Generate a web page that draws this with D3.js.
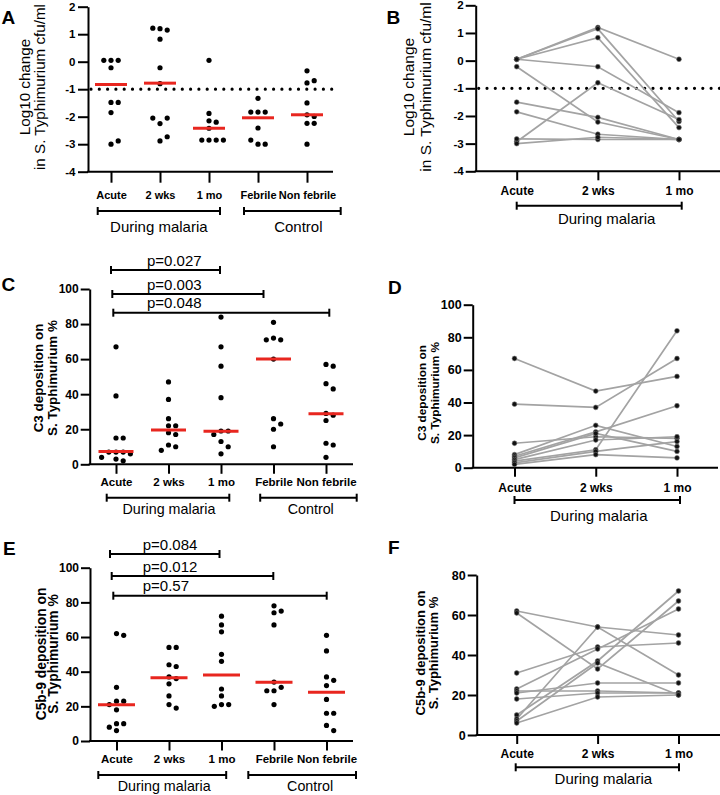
<!DOCTYPE html>
<html><head><meta charset="utf-8">
<script src="https://cdn.jsdelivr.net/npm/d3@7"></script>
<style>
body{margin:0;background:#fff;}
svg{display:block;}
</style></head><body>
<script>
// ---------------- DATA ----------------
const categories = ["Acute", "2 wks", "1 mo", "Febrile", "Non febrile"];
const pairedCategories = ["Acute", "2 wks", "1 mo"];
const groupLabels = ["During malaria", "Control"];
const groupSpans = [["Acute", "1 mo"], ["Febrile", "Non febrile"]];

const cfuTicks = [2, 1, 0, -1, -2, -3, -4];
const pctTicks = [0, 20, 40, 60, 80, 100];
const pctTicksF = [0, 20, 40, 60, 80];
const cfuThreshold = -1;

// Panel A: log10 change in S. Typhimurium cfu/ml
const cfuAcute = [0.05, 0.05, 0.05, -0.22, -1.48, -1.48, -1.85, -3.0, -2.88];
const cfu2wks = [1.2, 1.15, 1.22, 0.82, -0.22, -0.8, -2.25, -2.05, -2.05, -2.88, -2.73];
const cfu1mo = [0.05, -1.88, -2.15, -2.2, -2.42, -2.85, -2.85, -2.85, -2.85];
const cfuFebrile = [-1.33, -1.83, -1.83, -1.83, -2.41, -3.0, -3.0, -2.85];
const cfuNonFebrile = [-0.33, -0.77, -0.69, -1.5, -1.93, -1.99, -2.24, -2.24, -3.0];
const cfuMedians = [-0.83, -0.78, -2.42, -2.04, -1.93];

// Panel B: paired subjects [Acute, 2 wks, 1 mo]
const cfuPaired = [
  [0.05, 1.2, 0.05],
  [0.05, 1.15, -2.2],
  [0.05, 0.83, -2.42],
  [0.05, -0.22, -1.88],
  [-0.22, -2.22, -2.85],
  [-1.5, -2.05, -2.85],
  [-1.85, -2.66, -2.85],
  [-2.93, -0.8, -2.13],
  [-2.83, -2.85, -2.85],
  [-3.0, -2.77, -2.85]
];

// Panel C: C3 deposition %
const c3Acute = [67, 39, 15, 15, 7, 7, 7, 6, 4, 3, 2];
const c3Wks2 = [47, 37, 26, 22, 22, 18, 17, 11, 10, 8];
const c3Mo1 = [84, 67, 56, 38, 19, 19, 17, 13, 10, 6];
const c3Febrile = [81, 72, 71, 71, 60, 26, 23, 20, 10];
const c3NonFebrile = [57, 56, 46, 43, 29, 28, 25, 12, 11, 4];
const c3Medians = [7.3, 19.5, 18.9, 60, 28.8];
const c3PLabels = ["p=0.027", "p=0.003", "p=0.048"];
const c3PPairs = [["Acute", "1 mo"], ["Acute", "Febrile"], ["Acute", "Non febrile"]];

// Panel D: paired C3
const c3Paired = [
  [67, 47, 56],
  [39, 37, 67],
  [15, 19, 18],
  [8, 26, 13],
  [7, 22, 38],
  [6, 21, 10],
  [5, 17, 19],
  [4, 11, 84],
  [3, 10, 16],
  [2, 8, 6]
];

// Panel E: C5b-9 deposition %
const c5Acute = [62, 61, 31, 23, 23, 21, 18, 10, 10, 8, 6];
const c5Wks2 = [54, 54, 44, 43, 37, 36, 33, 26, 21, 19];
const c5Mo1 = [72, 67, 63, 50, 46, 30, 26, 21, 21, 20];
const c5Febrile = [78, 75, 74, 67, 34, 31, 29, 29, 21];
const c5NonFebrile = [61, 52, 37, 35, 32, 24, 16, 16, 9, 6];
const c5Medians = [20.9, 36.5, 38.1, 33.9, 28.1];
const c5PLabels = ["p=0.084", "p=0.012", "p=0.57"];
const c5PPairs = [["Acute", "1 mo"], ["Acute", "Febrile"], ["Acute", "Non febrile"]];

// Panel F: paired C5b-9
const c5Paired = [
  [62, 54, 50],
  [61, 33, 67],
  [31, 44, 46],
  [23, 43, 63],
  [22, 22, 21],
  [21, 26, 26],
  [18, 21, 21],
  [10, 37, 72],
  [8, 54, 30],
  [7, 36, 20],
  [6, 19, 20]
];

// ---------------- DRAWING ----------------
const FONT = '"Liberation Sans", Arial, Helvetica, sans-serif';
const RED = "#e8261f";
const GRAY = "#a3a3a3";

const svg = d3.select("body").append("svg")
  .attr("width", 720).attr("height", 795)
  .attr("font-family", FONT);

function beeswarm(values, xc, y, spacing, minDist) {
  const placed = [];
  const order = [0, 1, -1, 2, -2, 3, -3];
  return values.map(v => {
    const py = y(v);
    for (const k of order) {
      const px = xc + k * spacing;
      if (placed.every(p => Math.hypot(p.x - px, p.y - py) >= minDist)) {
        const pt = {x: px, y: py, v};
        placed.push(pt);
        return pt;
      }
    }
    const pt = {x: xc, y: py, v};
    placed.push(pt);
    return pt;
  });
}

function drawYAxis(g, y, L, ticks) {
  const a = g.append("g").attr("transform", `translate(${L.yAxisX},0)`)
    .call(d3.axisLeft(y).tickValues(ticks).tickFormat(d => String(d))
      .tickSize(L.ytick).tickPadding(L.ypad).tickSizeOuter(0));
  a.attr("font-family", FONT).attr("font-size", L.tickFont).attr("font-weight", "bold");
  a.selectAll("path,line").attr("stroke", "#000").attr("stroke-width", 2);
  a.selectAll("text").attr("fill", "#000");
}

function drawXAxis(g, x, y0, L) {
  const a = g.append("g").attr("transform", `translate(0,${y0})`)
    .call(d3.axisBottom(x).tickSize(L.xtick).tickPadding(L.xpad).tickSizeOuter(0));
  a.select(".domain").remove();
  a.attr("font-family", FONT).attr("font-size", L.catFont).attr("font-weight", "bold");
  a.selectAll("line").attr("stroke", "#000").attr("stroke-width", 2);
  a.selectAll("text").attr("fill", "#000");
  g.append("line").attr("x1", L.yAxisX - 1).attr("x2", L.xEnd)
    .attr("y1", y0).attr("y2", y0).attr("stroke", "#000").attr("stroke-width", 2);
}

function drawBracket(g, x1, x2, yb, cap) {
  g.append("line").attr("x1", x1).attr("x2", x2).attr("y1", yb).attr("y2", yb)
    .attr("stroke", "#000").attr("stroke-width", 2);
  [x1, x2].forEach(xx => g.append("line").attr("x1", xx).attr("x2", xx)
    .attr("y1", yb - cap).attr("y2", yb + cap).attr("stroke", "#000").attr("stroke-width", 2));
}

function drawGroups(g, x, L, spans, labels) {
  spans.forEach((s, i) => {
    const x1 = x(s[0]) + L.groupOff[i][0];
    const x2 = x(s[1]) + L.groupOff[i][1];
    drawBracket(g, x1, x2, L.bracketY, 4);
    g.append("text").attr("x", (x1 + x2) / 2 + L.groupOff[i][2]).attr("y", L.groupBase)
      .attr("text-anchor", "middle").attr("font-size", L.groupFont).attr("fill", "#000")
      .text(labels[i]);
  });
}

function drawYLabel(g, L, lines) {
  lines.forEach((t, i) => {
    g.append("text")
      .attr("transform", `translate(${L.ylabX[i]},${L.ylabY}) rotate(-90)`)
      .attr("text-anchor", "middle").attr("font-size", L.ylabFont)
      .attr("font-weight", L.ylabBold ? "bold" : "normal").attr("fill", "#000")
      .text(t);
  });
}

function drawLetter(g, L) {
  g.append("text").attr("x", L.letterX).attr("y", L.letterY)
    .attr("font-size", 19).attr("font-weight", "bold").attr("fill", "#000").text(L.letter);
}

function drawThreshold(g, y, L, v) {
  g.append("line").attr("x1", L.yAxisX + 3).attr("x2", L.xEnd)
    .attr("y1", y(v)).attr("y2", y(v))
    .attr("stroke", "#000").attr("stroke-width", 3.2)
    .attr("stroke-linecap", "round").attr("stroke-dasharray", "0,8.3");
}

function drawScatter(P, L) {
  const g = svg.append("g");
  const y = d3.scaleLinear().domain(P.yDomain).range(L.yRange);
  const x = d3.scalePoint().domain(categories).range(L.xRange);
  drawLetter(g, L);
  drawYAxis(g, y, L, P.yTicks);
  drawXAxis(g, x, L.yRange[0], L);
  drawGroups(g, x, L, groupSpans, groupLabels);
  drawYLabel(g, L, P.yLabel);
  if (P.threshold !== undefined) drawThreshold(g, y, L, P.threshold);
  if (P.pLabels) {
    P.pLabels.forEach((lab, i) => {
      const x1 = x(P.pPairs[i][0]) + L.pOff[i][0];
      const x2 = x(P.pPairs[i][1]) + L.pOff[i][1];
      drawBracket(g, x1, x2, L.pY[i], 4);
      g.append("text").attr("x", x(P.pPairs[i][0]) + L.pTextDx).attr("y", L.pY[i] - 4.5)
        .attr("font-size", 15).attr("fill", "#000").text(lab);
    });
  }
  P.values.forEach((vals, ci) => {
    const xc = x(categories[ci]);
    const pts = beeswarm(vals, xc, y, 7.2, 5.8);
    g.selectAll(null).data(pts).enter().append("circle")
      .attr("cx", d => d.x).attr("cy", d => d.y).attr("r", 2.6).attr("fill", "#000");
    g.append("line").attr("x1", xc - L.medHalf).attr("x2", xc + L.medHalf)
      .attr("y1", y(P.medians[ci])).attr("y2", y(P.medians[ci]))
      .attr("stroke", RED).attr("stroke-width", 3);
  });
}

function drawPaired(P, L) {
  const g = svg.append("g");
  const y = d3.scaleLinear().domain(P.yDomain).range(L.yRange);
  const x = d3.scalePoint().domain(pairedCategories).range(L.xRange);
  drawLetter(g, L);
  drawYAxis(g, y, L, P.yTicks);
  drawXAxis(g, x, L.yRange[0], L);
  drawGroups(g, x, L, [groupSpans[0]], [groupLabels[0]]);
  drawYLabel(g, L, P.yLabel);
  if (P.threshold !== undefined) drawThreshold(g, y, L, P.threshold);
  const line = d3.line().x((d, i) => x(pairedCategories[i])).y(d => y(d));
  g.selectAll(null).data(P.subjects).enter().append("path")
    .attr("d", d => line(d)).attr("fill", "none")
    .attr("stroke", GRAY).attr("stroke-width", 1.7);
  P.subjects.forEach(s => s.forEach((v, i) => {
    g.append("circle").attr("cx", x(pairedCategories[i])).attr("cy", y(v))
      .attr("r", 2.4).attr("fill", "#111").attr("stroke", "#777").attr("stroke-width", 0.6);
  }));
}

// ---------------- LAYOUT ----------------
drawScatter({
  yDomain: [-4, 2], yTicks: cfuTicks, threshold: cfuThreshold,
  values: [cfuAcute, cfu2wks, cfu1mo, cfuFebrile, cfuNonFebrile], medians: cfuMedians,
  yLabel: ["Log10 change", "in S. Typhimurium cfu/ml"]
}, {
  letter: "A", letterX: 1.5, letterY: 23.5,
  yAxisX: 88, yRange: [171.7, 6.7], xRange: [111, 307], xEnd: 333,
  ytick: 10, ypad: 2.5, tickFont: 11.5, xtick: 11, xpad: 9, catFont: 11,
  bracketY: 211, groupOff: [[-13.3, 11, 0], [-14, 33.7, 6]], groupBase: 232, groupFont: 15,
  ylabX: [30, 45], ylabY: 87, ylabFont: 15.2, ylabBold: false, medHalf: 16
});

drawPaired({
  yDomain: [-4, 2], yTicks: cfuTicks, threshold: cfuThreshold, subjects: cfuPaired,
  yLabel: ["Log10 change", "in S. Typhimurium cfu/ml"]
}, {
  letter: "B", letterX: 386.5, letterY: 23.5,
  yAxisX: 475.7, yRange: [171.3, 5.3], xRange: [516.7, 679], xEnd: 720,
  ytick: 10, ypad: 2, tickFont: 11.5, xtick: 9, xpad: 6, catFont: 12,
  bracketY: 205.7, groupOff: [[0, 2.7, 7.5]], groupBase: 223.5, groupFont: 15,
  ylabX: [414, 431], ylabY: 87, ylabFont: 15.5, ylabBold: false
});

drawScatter({
  yDomain: [0, 100], yTicks: pctTicks,
  values: [c3Acute, c3Wks2, c3Mo1, c3Febrile, c3NonFebrile], medians: c3Medians,
  pLabels: c3PLabels, pPairs: c3PPairs,
  yLabel: ["C3 deposition on", "S. Typhimurium %"]
}, {
  letter: "C", letterX: 1.5, letterY: 291,
  yAxisX: 89.7, yRange: [464.3, 289], xRange: [116, 326], xEnd: 353,
  ytick: 9, ypad: 2, tickFont: 12, xtick: 9.5, xpad: 4.4, catFont: 11.5,
  bracketY: 497.7, groupOff: [[-9.3, 8.3, 1], [-13.3, 30.7, 2.3]], groupBase: 513.5, groupFont: 14.3,
  ylabX: [43, 57], ylabY: 378, ylabFont: 13.4, ylabBold: true, medHalf: 17.5,
  pY: [270, 294, 312.7], pOff: [[-5, -1], [-3.7, -10], [-2.7, 3.3]], pTextDx: 31
});

drawPaired({
  yDomain: [0, 100], yTicks: pctTicks, subjects: c3Paired,
  yLabel: ["C3 deposition on", "S. Typhimurium %"]
}, {
  letter: "D", letterX: 388, letterY: 293.5,
  yAxisX: 472.7, yRange: [467.7, 304.7], xRange: [514.5, 677], xEnd: 718,
  ytick: 9, ypad: 2, tickFont: 12.5, xtick: 9, xpad: 6.3, catFont: 12,
  bracketY: 500, groupOff: [[0, 3, 1.5]], groupBase: 520.5, groupFont: 15,
  ylabX: [425.5, 438.5], ylabY: 393, ylabFont: 11.8, ylabBold: true
});

drawScatter({
  yDomain: [0, 100], yTicks: pctTicks,
  values: [c5Acute, c5Wks2, c5Mo1, c5Febrile, c5NonFebrile], medians: c5Medians,
  pLabels: c5PLabels, pPairs: c5PPairs,
  yLabel: ["C5b-9 deposition on", "S. Typhimurium %"]
}, {
  letter: "E", letterX: 3, letterY: 554.5,
  yAxisX: 90, yRange: [741, 567.7], xRange: [116.5, 326.5], xEnd: 353,
  ytick: 9, ypad: 2, tickFont: 12, xtick: 9.5, xpad: 4.7, catFont: 11.5,
  bracketY: 775, groupOff: [[-18.2, 4.7, 2], [-25.7, 29.5, 8]], groupBase: 791, groupFont: 14.3,
  ylabX: [45.5, 58], ylabY: 654, ylabFont: 13.8, ylabBold: true, medHalf: 18.5,
  pY: [554, 576, 595.7], pOff: [[-6.5, -2], [-4.8, -0.7], [-3.2, 0.2]], pTextDx: 26.2
});

drawPaired({
  yDomain: [0, 80], yTicks: pctTicksF, subjects: c5Paired,
  yLabel: ["C5b-9 deposition on", "S. Typhimurium %"]
}, {
  letter: "F", letterX: 388, letterY: 553.5,
  yAxisX: 476.7, yRange: [735, 575], xRange: [516.7, 678.5], xEnd: 720,
  ytick: 9, ypad: 2, tickFont: 12.5, xtick: 9, xpad: 5.7, catFont: 12,
  bracketY: 767.3, groupOff: [[-1, 0.5, 6]], groupBase: 783.8, groupFont: 15,
  ylabX: [424.5, 437.5], ylabY: 653, ylabFont: 13, ylabBold: true
});
</script>
</body></html>
